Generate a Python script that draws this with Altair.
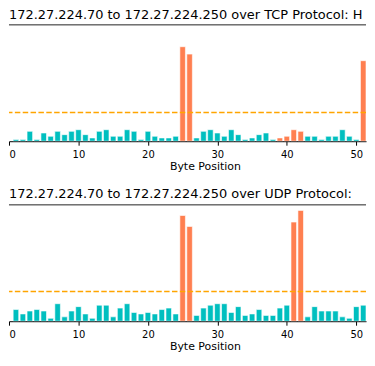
import altair as alt
import pandas as pd

positions = list(range(1, 53))

tcp_title = "172.27.224.70 to 172.27.224.250 over TCP Protocol: Histogram"
tcp_counts = [1, 1, 6, 1, 5, 3, 6, 4, 6, 7, 4, 2, 6, 7, 3, 3, 7, 6, 1, 6,
              3, 2, 2, 3, 57.5, 53, 2, 6, 7, 5, 3, 7, 4, 1, 2, 4, 5, 1, 2, 3,
              7, 6, 3, 3, 1, 3, 3, 7, 3, 1, 49, 61]
tcp_flagged = [25, 26, 39, 40, 41, 42, 51, 52]
tcp_threshold = 17.5
tcp_ymax = 70.8

udp_title = "172.27.224.70 to 172.27.224.250 over UDP Protocol: Histogram"
udp_counts = [8, 5, 7, 8, 7, 2, 12, 3, 7, 10, 5, 2, 11, 11, 3, 9, 12, 6, 5, 6,
              5, 8, 9, 5, 72.5, 65, 4, 9, 11, 12, 12, 6, 10, 4, 5, 8, 4, 4, 9, 11,
              68, 76, 3, 10, 7, 7, 7, 3, 2, 10, 11, 6]
udp_flagged = [25, 26, 41, 42]
udp_threshold = 20.4
udp_ymax = 79.8

tick_values = [0, 10, 20, 30, 40, 50]
x_domain = [0, 51.4]

TEAL = "#00bfbf"
CORAL = "#ff7f50"
FONT = "DejaVu Sans"
W = 359
H = 117


def panel(title, counts, flagged, threshold, ymax, title_dy):
    df = pd.DataFrame({
        "pos": positions,
        "count": counts,
        "color": [CORAL if p in flagged else TEAL for p in positions],
    })
    xs = alt.Scale(domain=x_domain, nice=False, zero=False)
    ys = alt.Scale(domain=[0, ymax], nice=False, zero=True)
    bars = alt.Chart(df).transform_calculate(
        x0="datum.pos - 0.4", x1="datum.pos + 0.4"
    ).mark_bar(clip=True, stroke="white", strokeWidth=0.6).encode(
        x=alt.X("x0:Q", scale=xs,
                axis=alt.Axis(values=tick_values, title="Byte Position",
                              grid=False, labelFlush=3, titleX=197,
                              format="d")),
        x2="x1:Q",
        y=alt.Y("count:Q", scale=ys, axis=None),
        y2=alt.datum(0),
        color=alt.Color("color:N", scale=None),
    )
    thr = alt.Chart(pd.DataFrame({"t": [threshold]})).mark_rule(
        color="#ffa500", strokeDash=[5.5, 2.4], strokeWidth=1.5
    ).encode(y=alt.Y("t:Q", scale=ys, axis=None))
    spine = alt.Chart(pd.DataFrame({"a": [0]})).mark_rule(
        color="#222222", strokeWidth=1
    ).encode(x=alt.value(0), x2=alt.value(W), y=alt.value(0))
    ttl = alt.Chart(pd.DataFrame({"t": [title]})).mark_text(
        align="left", baseline="alphabetic", fontSize=13, font=FONT,
        limit=W, ellipsis="\u200b", color="black"
    ).encode(x=alt.value(0), y=alt.value(title_dy), text="t:N")
    return alt.layer(bars, thr, spine, ttl).properties(width=W, height=H)


top = panel(tcp_title, tcp_counts, tcp_flagged, tcp_threshold, tcp_ymax, -6)
bottom = panel(udp_title, udp_counts, udp_flagged, udp_threshold, udp_ymax, -7)

chart = alt.vconcat(top, bottom, spacing=17).properties(
    padding={"left": 0, "top": 0, "right": 0, "bottom": 0}
).configure_view(stroke=None).configure_axis(
    domainColor="black", tickColor="black", labelColor="black",
    titleColor="black", tickSize=4, labelFontSize=10, titleFontSize=11,
    labelFont=FONT, titleFont=FONT, titleFontWeight="normal",
    labelPadding=4, titlePadding=1
)

chart.save("out.html", embed_options={"renderer": "svg", "actions": False})
